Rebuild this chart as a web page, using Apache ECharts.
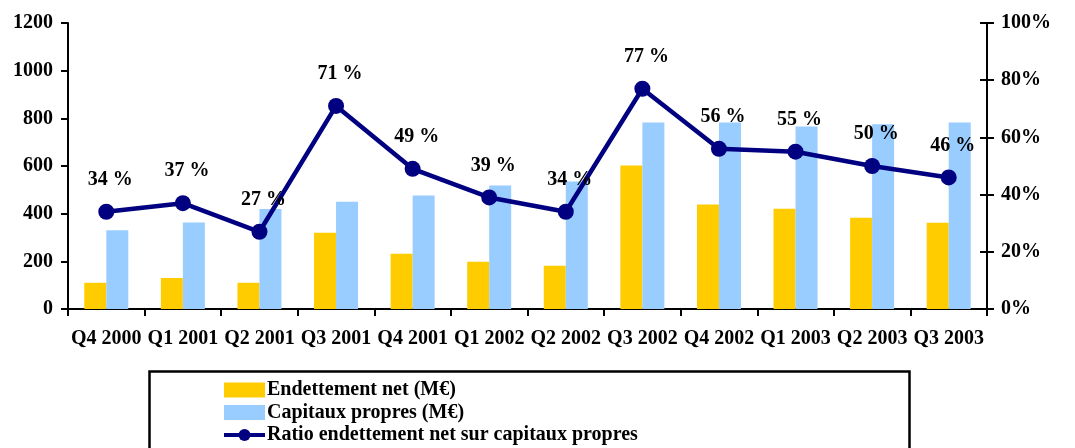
<!DOCTYPE html>
<html>
<head>
<meta charset="utf-8">
<script src="https://cdn.jsdelivr.net/npm/echarts@6/dist/echarts.min.js"></script>
<style>
  html, body { margin: 0; padding: 0; background: #fff; }
  #chart { width: 1075px; height: 448px; }
</style>
</head>
<body>
<div id="chart"></div>
<script>
// trimestres
const categories = ['Q4 2000', 'Q1 2001', 'Q2 2001', 'Q3 2001', 'Q4 2001', 'Q1 2002',
  'Q2 2002', 'Q3 2002', 'Q4 2002', 'Q1 2003', 'Q2 2003', 'Q3 2003']
// valeurs en M€
const endettementNet = [110, 130, 110, 320, 232, 198, 181, 602, 438, 421, 383, 362]
const capitauxPropres = [330, 363, 420, 450, 476, 518, 535, 783, 783, 766, 775, 783]
// ratio en %
const ratio = [34, 37, 27, 71, 49, 39, 34, 77, 56, 55, 50, 46]

const font = 'Liberation Serif, Times New Roman, serif'

const myChart = echarts.init(document.getElementById('chart'))
const option = {
  animation: false,
  textStyle: { fontFamily: font },
  grid: { left: 68, right: 88, top: 23, bottom: 139 },
  legend: {
    orient: 'vertical',
    left: 222,
    top: 380,
    height: 120,
    padding: 0,
    itemWidth: 41,
    itemHeight: 15,
    itemGap: 2.5,
    textStyle: {
      fontFamily: font,
      fontWeight: 'bold',
      fontSize: 20,
      color: '#000',
      lineHeight: 16,
      padding: [0, 0, 0, -3]
    },
    data: [
      { name: 'Endettement net (M€)', icon: 'rect' },
      { name: 'Capitaux propres (M€)', icon: 'rect' },
      { name: 'Ratio endettement net sur capitaux propres', itemStyle: { color: '#000080' }, lineStyle: { width: 4 } }
    ]
  },
  graphic: [{
    type: 'rect',
    left: 147,
    top: 369,
    shape: { width: 760, height: 100 },
    style: { fill: 'none', stroke: '#000', lineWidth: 2.5 },
    z: 0
  }],
  xAxis: {
    type: 'category',
    data: categories,
    axisLine: { lineStyle: { color: '#000', width: 2 } },
    axisTick: { show: true, length: 7, lineStyle: { color: '#000', width: 2 } },
    axisLabel: {
      interval: 0,
      margin: 20,
      color: '#000',
      fontWeight: 'bold',
      fontSize: 20,
      fontFamily: font
    }
  },
  yAxis: [
    {
      type: 'value',
      min: 0,
      max: 1200,
      interval: 200,
      splitLine: { show: false },
      axisLine: { show: true, lineStyle: { color: '#000', width: 2 } },
      axisTick: { show: true, length: 7, lineStyle: { color: '#000', width: 2 } },
      axisLabel: {
        formatter: v => String(v),
        color: '#000',
        fontWeight: 'bold',
        fontSize: 20,
        fontFamily: font,
        margin: 15
      }
    },
    {
      type: 'value',
      min: 0,
      max: 100,
      interval: 20,
      position: 'right',
      splitLine: { show: false },
      axisLine: { show: true, lineStyle: { color: '#000', width: 2 } },
      axisTick: { show: true, length: 7, lineStyle: { color: '#000', width: 2 } },
      axisLabel: {
        formatter: '{value}%',
        color: '#000',
        fontWeight: 'bold',
        fontSize: 20,
        fontFamily: font,
        margin: 14
      }
    },
    {
      // ticks intérieurs de l'axe droit
      type: 'value',
      min: 0,
      max: 100,
      interval: 20,
      position: 'right',
      splitLine: { show: false },
      axisLine: { show: false },
      axisTick: { show: true, inside: true, length: 7, lineStyle: { color: '#000', width: 2 } },
      axisLabel: { show: false }
    }
  ],
  series: [
    {
      name: 'Endettement net (M€)',
      type: 'bar',
      barWidth: 22,
      barGap: '0%',
      itemStyle: { color: '#FFCC00' },
      data: endettementNet
    },
    {
      name: 'Capitaux propres (M€)',
      type: 'bar',
      barWidth: 22,
      barGap: '0%',
      itemStyle: { color: '#99CCFF' },
      data: capitauxPropres
    },
    {
      name: 'Ratio endettement net sur capitaux propres',
      type: 'line',
      yAxisIndex: 1,
      symbol: 'circle',
      symbolSize: 16,
      color: '#000080',
      lineStyle: { color: '#000080', width: 4.5 },
      itemStyle: { color: '#000080' },
      label: {
        show: true,
        position: 'top',
        distance: 14,
        offset: [4, 0],
        formatter: '{c} %',
        color: '#000',
        fontWeight: 'bold',
        fontSize: 20,
        fontFamily: font
      },
      data: ratio,
      z: 5
    }
  ]
}
myChart.setOption(option)
window.onresize = () => {
  myChart.resize()
}
</script>
</body>
</html>
